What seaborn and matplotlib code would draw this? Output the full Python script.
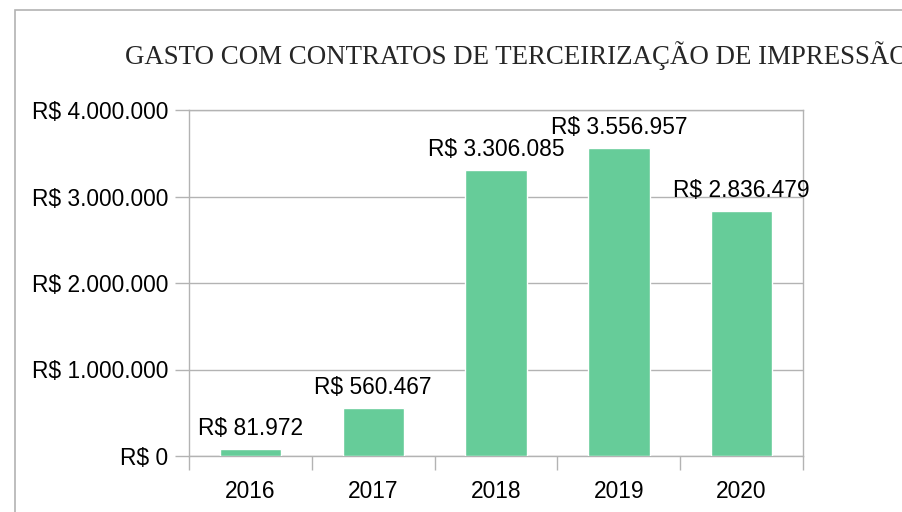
import matplotlib
matplotlib.use('Agg')
import matplotlib.pyplot as plt
import matplotlib.patches as patches
from matplotlib.ticker import FuncFormatter, FixedLocator
import pandas as pd
import seaborn as sns

# Dados do gráfico
anos = ['2016', '2017', '2018', '2019', '2020']
gastos = [81972, 560467, 3306085, 3556957, 2836479]
titulo = 'GASTO COM CONTRATOS DE TERCEIRIZAÇÃO DE IMPRESSÃO'

df = pd.DataFrame({'ano': anos, 'gasto': gastos})


def reais(v, pos=None):
    return 'R$ ' + f'{int(round(v)):,}'.replace(',', '.')


sns.set_style('white')
plt.rcParams['font.family'] = ['Liberation Sans', 'DejaVu Sans']

cinza = '#b3b3b3'
verde = '#66cc99'
fs = 16.4

fig = plt.figure(figsize=(9.03, 5.12), dpi=100)
ax = fig.add_axes([189 / 903, 56 / 512, 614 / 903, 346 / 512])

# moldura do gráfico (cortada nas bordas da imagem)
fig.patches.append(patches.Rectangle((15 / 903, -0.1), 1.2, (502 / 512) + 0.1,
                                     transform=fig.transFigure, fill=False,
                                     edgecolor=cinza, linewidth=1.2))

sns.barplot(data=df, x='ano', y='gasto', color=verde, width=0.5,
            saturation=1, ax=ax, zorder=3)

ax.set_xlim(-0.5, 4.5)
ax.set_ylim(0, 4000000)
ax.set_yticks([0, 1000000, 2000000, 3000000, 4000000])
ax.yaxis.set_major_formatter(FuncFormatter(reais))
ax.yaxis.grid(True, color=cinza, linewidth=1)
ax.set_xlabel('')
ax.set_ylabel('')

for s in ax.spines.values():
    s.set_color(cinza)
    s.set_linewidth(1)

ax.tick_params(axis='y', length=10, width=1, color=cinza, labelsize=fs,
               pad=5, labelcolor='black', left=True)
ax.tick_params(axis='x', which='major', length=0, labelsize=fs, pad=17,
               labelcolor='black')
ax.xaxis.set_minor_locator(FixedLocator([-0.5, 0.5, 1.5, 2.5, 3.5, 4.5]))
ax.tick_params(axis='x', which='minor', length=10, width=1, color=cinza,
               bottom=True)

for i, v in enumerate(gastos):
    ax.annotate(reais(v), (i, v), xytext=(0, 10), textcoords='offset points',
                ha='center', va='baseline', fontsize=fs, color='black')

fig.text(125 / 903, 1 - 64 / 512, titulo, ha='left', va='baseline',
         fontsize=19.4, family=['Liberation Serif', 'DejaVu Serif'])

fig.savefig('out.png', dpi=100)
